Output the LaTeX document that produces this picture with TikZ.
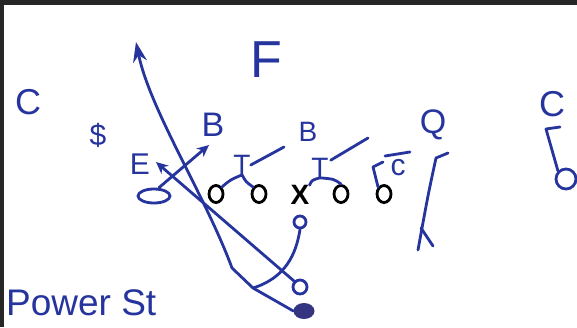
\documentclass[tikz,border=0pt]{standalone}
\usepackage{fontspec}
\setmainfont{Liberation Sans}
\usepackage{xcolor}
\usetikzlibrary{positioning, arrows.meta, shapes.geometric, calc}
\definecolor{ink}{RGB}{38,52,158}
\definecolor{inkdark}{RGB}{52,52,128}
\definecolor{edge}{RGB}{38,38,38}

\begin{document}
\begin{tikzpicture}[
    x=1pt, y=-1pt,
    hand/.style={text=ink, inner sep=0pt, font=\fontsize{#1}{#1}\selectfont},
    ol/.style={ellipse, draw=black, line width=2.8pt, minimum width=14pt, minimum height=17pt, inner sep=0pt},
    pl/.style={ellipse, draw=ink, line width=2.8pt, inner sep=0pt},
    ln/.style={draw=ink, line width=2.8pt, line cap=round, line join=round},
    arr/.style={ln, -{Stealth[length=12pt, width=11pt]}}
]

\useasboundingbox (0,0) rectangle (577,327);
\fill[white] (0,0) rectangle (577,327);
\fill[edge] (0,0) rectangle (577,5);
\fill[edge] (0,0) rectangle (4,327);

% defense
\node[hand=36] (cl) at (28,102) {C};
\node[hand=30] (ss) at (98,135) {\$};
\node[hand=30] (de) at (140,164) {E};
\node[hand=34] (lb) at (213,125) {B};
\node[hand=52] (fs) at (266,60) {F};
\node[hand=28] (mb) at (308,132) {B};
\node[hand=28] (dt) at (242,165) {T};
\node[hand=28] (nt) at (320,168) {T};
\node[hand=30] (re) at (398,168) {c};
\node[hand=34] (qq) at (433,125) {Q};
\node[hand=36] (cr) at (552,104) {C};

% offense
\node[ol] (lt) at (216,194) {};
\node[ol] (lg) at (259,194) {};
\node[font=\bfseries\fontsize{28}{28}\selectfont, inner sep=0pt] (c) at (300,195) {X};
\node[ol] (rg) at (341,194) {};
\node[ol] (rtk) at (384,194) {};

\node[pl, minimum width=32pt, minimum height=14pt] (te) at (154,196) {};
\node[pl, circle, minimum size=12pt] (qb) at (300,222) {};
\node[pl, circle, minimum size=14pt] (hb) at (300,287) {};
\node[ellipse, fill=inkdark, minimum width=21pt, minimum height=16pt, inner sep=0pt] (fb) at (304,311) {};
\node[pl, circle, minimum size=20pt] (wr) at (566,179) {};

\node[hand=37, anchor=base west] (title) at (6,315) {Power St};

% routes
\coordinate (teend) at (209,145);
\coordinate (kick) at (156,162);
\coordinate (fb1) at (253,288);
\coordinate (fb2) at (232,268);
\coordinate (fbtip) at (136,42);

\draw[arr] ($(te.north)+(5,0)$) -- (teend);
\draw[arr] (hb.north west) -- (kick);
\draw[ln, -{Stealth[length=20pt, width=14pt]}] (fb.west) -- (fb1) -- (fb2) .. controls (205,195) and (150,110) .. (fbtip);
\draw[ln] (qb.south) .. controls (296,255) and (285,278) .. (fb1);

% blocks and line moves
\coordinate (dtend) at (284,147);
\coordinate (ntend) at (368,138);
\coordinate (rthook) at (373,167);
\coordinate (rtbar) at (383,162);
\coordinate (rebar) at (385,156);
\coordinate (rebar2) at (410,152);

\draw[ln] (lt.north east) .. controls (230,180) .. (dt.south) .. controls (246,182) .. (lg.north west);
\draw[ln] (dt.east) -- (dtend);
\draw[ln] (c.north east) .. controls (312,180) .. (nt.south) .. controls (334,179) .. (rg.north);
\draw[ln] ($(nt.north east)+(2,2)$) -- (ntend);
\draw[ln] (rtk.north west) -- (rthook) -- (rtbar);
\draw[ln] (rebar) -- (rebar2);

% right side
\coordinate (qtop) at (448,153);
\coordinate (qhook) at (436,158);
\coordinate (qbot) at (418,250);
\coordinate (qkink) at (421,228);
\coordinate (qfoot) at (433,246);
\draw[ln] (qtop) -- (qhook) .. controls (428,195) .. (qbot);
\draw[ln] (qkink) -- (qfoot);

\coordinate (crh) at (560,127);
\coordinate (crs) at (546,129);
\draw[ln] (crh) -- (crs) -- (wr.north west);

\end{tikzpicture}
\end{document}
